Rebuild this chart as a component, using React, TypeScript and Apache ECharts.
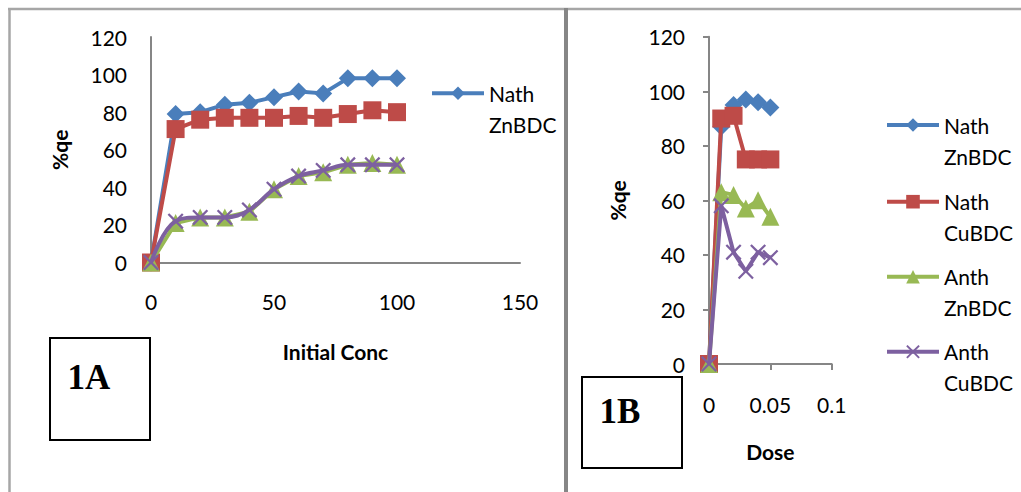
import React, { useEffect, useRef } from "react";
import * as echarts from "echarts";

// ---- Data: chart 1A (Initial Conc vs %qe) ----
const concA = [0, 10, 20, 30, 40, 50, 60, 70, 80, 90, 100];
const nathZnA = [0, 79, 80, 84, 85, 88, 91, 90, 98, 98, 98];
const nathCuA = [0, 71, 76, 77, 77, 77, 78, 77, 79, 81, 80];
const anthZnA = [0, 21, 24, 24, 27, 39, 46, 48, 52, 53, 52];
const anthCuA = [0, 22, 24, 24, 28, 39, 46, 49, 52, 52, 52];

// ---- Data: chart 1B (Dose vs %qe) ----
const doseB = [0, 0.01, 0.02, 0.03, 0.04, 0.05];
const nathZnB = [0, 87, 95, 97, 96, 94];
const nathCuB = [0, 90, 91, 75, 75, 75];
const anthZnB = [0, 63, 62, 57, 60, 54];
const anthCuB = [0, 58, 41, 34, 41, 39];

const seriesNames = ["Nath\nZnBDC", "Nath\nCuBDC", "Anth\nZnBDC", "Anth\nCuBDC"];
const colors = ["#4A7EBB", "#BE4B48", "#98B954", "#7D60A0"];
const X_PATH =
  "path://M0,1 L1,0 L5,4 L9,0 L10,1 L6,5 L10,9 L9,10 L5,6 L1,10 L0,9 L4,5 Z";
const symbols = ["diamond", "rect", "triangle", X_PATH];
const symbolSizes = [18, 18, 18, 16];

const yTicks = { min: 0, max: 120, interval: 20 };
const xTicksA = { min: 0, max: 150, interval: 50 };
const xTicksB = { min: 0, max: 0.1, interval: 0.05 };

const FONT = "Lato, 'Open Sans', sans-serif";

function mkSeries(
  idx: number,
  xs: number[],
  ys: number[],
  gridIndex: number,
  smooth: boolean | number
) {
  return {
    type: "line",
    name: seriesNames[idx],
    xAxisIndex: gridIndex,
    yAxisIndex: gridIndex,
    data: xs.map((x, i) => [x, ys[i]]),
    symbol: symbols[idx],
    symbolSize: symbolSizes[idx],
    smooth,
    lineStyle: { color: colors[idx], width: 4 },
    itemStyle: { color: colors[idx] },
    emphasis: { disabled: true },
    z: 2 + idx,
  };
}

const axisLine = { show: true, lineStyle: { color: "#868686", width: 2 } };
const axisLabel = { color: "#000", fontSize: 21, fontFamily: FONT };
const nameStyle = { color: "#000", fontSize: 21, fontWeight: "bold", fontFamily: FONT };

function legendAt(name: string, left: number, top: number) {
  return {
    data: [name],
    left,
    top,
    orient: "vertical",
    padding: 0,
    itemWidth: 52,
    itemHeight: 17,
    selectedMode: false,
    lineStyle: { width: 4 },
    // leading blank line so the first text line sits level with the icon
    formatter: (n: string) => "\n" + n,
    textStyle: {
      color: "#000",
      fontSize: 21,
      lineHeight: 31,
      fontFamily: FONT,
    },
  };
}

export default function App() {
  const ref = useRef<HTMLDivElement>(null);
  useEffect(() => {
    if (!ref.current) return;
    const chart = echarts.init(ref.current, undefined, { renderer: "svg" });
    const option = {
      animation: false,
      backgroundColor: "#fff",
      textStyle: { fontFamily: FONT },
      grid: [
        { left: 151, top: 37, width: 369, height: 225.5 },
        { left: 709, top: 36.7, width: 122.7, height: 327.3 },
      ],
      xAxis: [
        {
          type: "value",
          gridIndex: 0,
          ...xTicksA,
          axisLine,
          axisTick: { show: false },
          splitLine: { show: false },
          axisLabel: { ...axisLabel, margin: 28 },
          name: "Initial Conc",
          nameLocation: "middle",
          nameGap: 78,
          nameTextStyle: nameStyle,
        },
        {
          type: "value",
          gridIndex: 1,
          ...xTicksB,
          axisLine,
          axisTick: { show: true, length: 6, lineStyle: { color: "#868686", width: 2 } },
          splitLine: { show: false },
          axisLabel: { ...axisLabel, margin: 30 },
          name: "Dose",
          nameLocation: "middle",
          nameGap: 77,
          nameTextStyle: nameStyle,
        },
      ],
      yAxis: [
        {
          type: "value",
          gridIndex: 0,
          ...yTicks,
          axisLine,
          axisTick: { show: false },
          splitLine: { show: false },
          axisLabel: { ...axisLabel, margin: 24 },
          name: "%qe",
          nameLocation: "middle",
          nameGap: 81,
          nameRotate: 90,
          nameTextStyle: nameStyle,
        },
        {
          type: "value",
          gridIndex: 1,
          ...yTicks,
          axisLine,
          axisTick: { show: true, length: 6, lineStyle: { color: "#868686", width: 2 } },
          splitLine: { show: false },
          axisLabel: { ...axisLabel, margin: 24 },
          name: "%qe",
          nameLocation: "middle",
          nameGap: 81,
          nameRotate: 90,
          nameTextStyle: nameStyle,
        },
      ],
      legend: [
        legendAt(seriesNames[0], 430, 46.8),
        legendAt(seriesNames[0], 885, 78.5),
        legendAt(seriesNames[1], 885, 155.2),
        legendAt(seriesNames[2], 885, 230.2),
        legendAt(seriesNames[3], 885, 305.2),
      ],
      series: [
        mkSeries(0, concA, nathZnA, 0, false),
        mkSeries(1, concA, nathCuA, 0, false),
        mkSeries(2, concA, anthZnA, 0, false),
        mkSeries(3, concA, anthCuA, 0, 0.4),
        mkSeries(0, doseB, nathZnB, 1, false),
        mkSeries(1, doseB, nathCuB, 1, false),
        mkSeries(2, doseB, anthZnB, 1, false),
        mkSeries(3, doseB, anthCuB, 1, false),
      ],
      graphic: [
        { type: "line", shape: { x1: 8, y1: 9, x2: 1021, y2: 9 }, style: { stroke: "#A6A6A6", lineWidth: 2.5 } },
        { type: "line", shape: { x1: 9.5, y1: 8, x2: 9.5, y2: 492 }, style: { stroke: "#A6A6A6", lineWidth: 2.5 } },
        { type: "line", shape: { x1: 566, y1: 8, x2: 566, y2: 492 }, style: { stroke: "#868686", lineWidth: 4 } },
        {
          type: "rect",
          shape: { x: 50, y: 338, width: 100, height: 102 },
          style: { fill: "#fff", stroke: "#000", lineWidth: 2 },
        },
        {
          type: "text",
          x: 89,
          y: 377,
          style: {
            text: "1A",
            fill: "#000",
            font: 'bold 35px "Liberation Serif", serif',
            align: "center",
            verticalAlign: "middle",
          },
        },
        {
          type: "rect",
          shape: { x: 582, y: 377, width: 100, height: 91 },
          style: { fill: "#fff", stroke: "#000", lineWidth: 2 },
        },
        {
          type: "text",
          x: 620,
          y: 411,
          style: {
            text: "1B",
            fill: "#000",
            font: 'bold 35px "Liberation Serif", serif',
            align: "center",
            verticalAlign: "middle",
          },
        },
      ],
    };
    chart.setOption(option as any);
    return () => chart.dispose();
  }, []);
  return (
    <div
      ref={ref}
      style={{ position: "fixed", left: 0, top: 0, width: 1021, height: 492, background: "#fff" }}
    />
  );
}
